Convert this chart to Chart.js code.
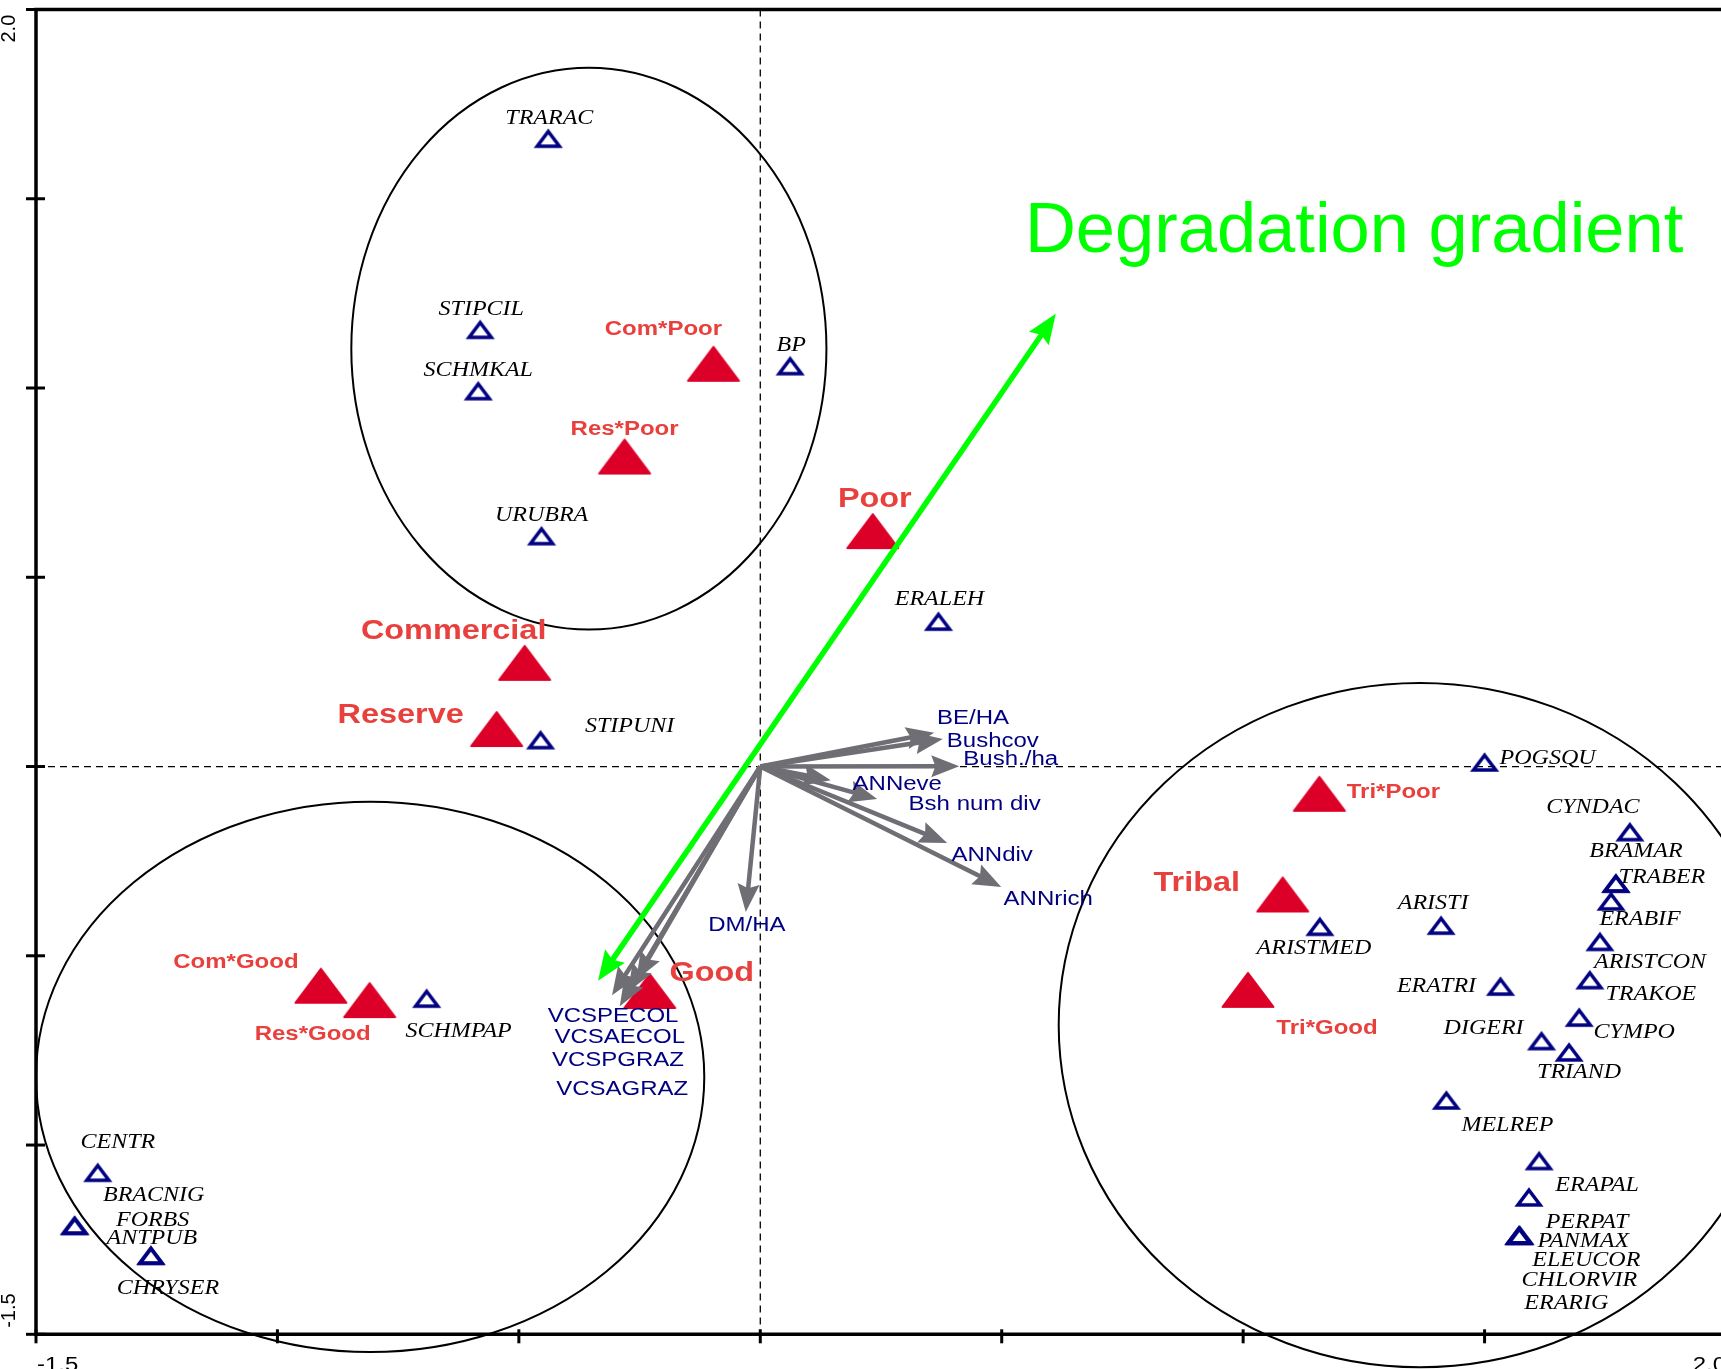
<!DOCTYPE html>
<html>
<head>
<meta charset="utf-8">
<title>Ordination biplot – degradation gradient</title>
<script src="https://cdn.jsdelivr.net/npm/chart.js@4.4.1/dist/chart.umd.min.js"></script>
<style>
  html, body { margin: 0; padding: 0; background: #ffffff; overflow: hidden; }
  #wrap { width: 1721px; height: 1369px; overflow: hidden; position: relative; }
  canvas { display: block; }
</style>
</head>
<body>
<div id="wrap"><canvas id="biplot" width="1740" height="1369" style="width:1740px;height:1369px"></canvas></div>
<script>
// ---------------- axis ticks ----------------
const tickValues  = [-1.5, -1.0, -0.5, 0.0, 0.5, 1.0, 1.5, 2.0];
const xTickLabels = ['-1.5', '', '', '', '', '', '', '2.0'];
const yTickLabels = ['-1.5', '', '', '', '', '', '', '2.0'];

// ---------------- management / condition centroids ----------------
const siteNames = ['Com*Poor', 'Res*Poor', 'Poor', 'Commercial', 'Reserve', 'Good',
                   'Com*Good', 'Res*Good', 'Tri*Poor', 'Tribal', 'Tri*Good'];
const siteX = [-0.097, -0.281, 0.233, -0.488, -0.546, -0.229, -0.910, -0.809, 1.158, 1.082, 1.010];
const siteY = [ 1.064,  0.819, 0.622,  0.274,  0.099, -0.593, -0.579, -0.617, -0.072, -0.338, -0.590];
const siteIsMain = [false, false, true, true, true, true, false, false, false, true, false];

// ---------------- species scores ----------------
const speciesNames = ['TRARAC', 'STIPCIL', 'SCHMKAL', 'BP', 'URUBRA', 'ERALEH', 'STIPUNI', 'SCHMPAP',
                      'CENTR', 'BRACNIG', 'FORBS', 'ANTPUB', 'CHRYSER',
                      'POGSQU', 'CYNDAC', 'BRAMAR', 'TRABER', 'ERABIF', 'ARISTCON', 'TRAKOE', 'CYMPO',
                      'DIGERI', 'TRIAND', 'ERATRI', 'ARISTI', 'ARISTMED', 'MELREP', 'ERAPAL', 'PERPAT',
                      'PANMAX', 'ELEUCOR', 'CHLORVIR', 'ERARIG'];
const speciesX = [-0.439, -0.580, -0.584, 0.062, -0.453, 0.369, -0.455, -0.691,
                  -1.372, -1.420, -1.420, -1.262, -1.262,
                   1.500, 1.801, 1.772, 1.772, 1.762, 1.739, 1.718, 1.696,
                   1.618, 1.675, 1.533, 1.410, 1.159, 1.421, 1.613, 1.592,
                   1.572, 1.572, 1.572, 1.572];
const speciesY = [ 1.660, 1.155, 0.993, 1.059, 0.610, 0.384, 0.071, -0.612,
                  -1.072, -1.212, -1.212, -1.291, -1.291,
                   0.012, -0.172, -0.308, -0.308, -0.355, -0.462, -0.563, -0.662,
                  -0.724, -0.754, -0.580, -0.419, -0.422, -0.881, -1.041, -1.137,
                  -1.238, -1.238, -1.238, -1.238];

// ---------------- environmental vectors (tips, origin at 0,0) ----------------
const envNames = ['BE/HA', 'Bushcov', 'Bush./ha', 'ANNeve', 'Bsh num div', 'ANNdiv', 'ANNrich', 'DM/HA',
                  'VCSPECOL', 'VCSAECOL', 'VCSPGRAZ', 'VCSAGRAZ'];
const envX = [0.360, 0.378, 0.412, 0.146, 0.242, 0.387, 0.499, -0.030, -0.307, -0.291, -0.274, -0.257];
const envY = [0.089, 0.073, 0.001, -0.036, -0.086, -0.202, -0.318, -0.384, -0.604, -0.633, -0.596, -0.564];

// ---------------- degradation gradient (double-headed) ----------------
const gradientX = [-0.336, 0.612];
const gradientY = [-0.566, 1.196];
const gradientTitle = 'Degradation gradient';

// ---------------- grouping ellipses ----------------
const ellipseCX = [-0.355, -0.808, 1.366];
const ellipseCY = [ 1.104, -0.820, -0.683];
const ellipseRX = [ 0.492,  0.692, 0.748];
const ellipseRY = [ 0.742,  0.727, 0.904];

// ---------------- label placement (pixel offsets from the mark) ----------------
const siteLabelOffset = [[-50, -34.5], [0, -27], [2, -32], [-71, -31], [-96, -14], [62, -17],
                         [-85, -23], [-57, 34], [74, -1], [-86, -11], [79, 38.5]];
const speciesLabelOffset = [[1, -19], [1, -19.5], [0, -19.5], [1, -19.5], [0, -19.5], [1, -21], [89, -13], [32, 34],
                            [20, -30], [79, -30], [78, -5], [1, -16], [17, 34],
                            [63, -3], [-37, -24], [20, -31], [46, -5], [29, 19], [50, 21], [61, 15.5], [55, 16],
                            [-58, -12], [10, 21], [-64, 1], [-8, -21], [-6, 22], [61, 26], [58, 25.5], [58, 26],
                            [64, 7], [67, 26], [60, 46], [47, 69]];
const envLabelOffset = [[39, -14], [50, 3], [51.5, -6.7], [66.5, 4], [97.5, 5], [45, 12], [47, 13], [1, 14],
                        [1, 21], [0, 31], [-10, 68], [-14, 109]];
const gradientTitleAnchor = { x: 0.548, y: 1.360 };

// ---------------- styles ----------------
const SX = 1.2;                       // horizontal text stretch of the figure
const RED_MARK = '#dc0028';
const RED_TEXT = '#e8403c';
const NAVY = '#000080';
const ARROW_GREY = '#6e6e74';
const GREEN = '#00ff00';
const SANS = '"Liberation Sans", Arial, sans-serif';
const SERIF = '"Liberation Serif", "Times New Roman", serif';

function makeFilledTriangle() {
  const c = document.createElement('canvas');
  c.width = 56; c.height = 40;
  const g = c.getContext('2d');
  g.fillStyle = RED_MARK; g.strokeStyle = RED_MARK;
  g.lineWidth = 2; g.lineJoin = 'round';
  g.beginPath(); g.moveTo(28, 3); g.lineTo(53.5, 37); g.lineTo(2.5, 37); g.closePath();
  g.fill(); g.stroke();
  return c;
}
function makeOpenTriangle() {
  const c = document.createElement('canvas');
  c.width = 34; c.height = 26;
  const g = c.getContext('2d');
  g.strokeStyle = NAVY; g.lineWidth = 3.5; g.lineJoin = 'miter';
  g.beginPath(); g.moveTo(17, 6.25); g.lineTo(28.1, 21); g.lineTo(5.9, 21); g.closePath();
  g.stroke();
  return c;
}

function stretchedText(ctx, text, x, y, font, color, align, baseline) {
  ctx.save();
  ctx.translate(x, y);
  ctx.scale(SX, 1);
  ctx.font = font;
  ctx.fillStyle = color;
  ctx.textAlign = align || 'center';
  ctx.textBaseline = baseline || 'middle';
  ctx.fillText(text, 0, 0);
  ctx.restore();
}

function arrowHead(ctx, x0, y0, x1, y1, len, half, color) {
  const ang = Math.atan2(y1 - y0, x1 - x0);
  const bx = x1 - len * Math.cos(ang), by = y1 - len * Math.sin(ang);
  const nx = -Math.sin(ang), ny = Math.cos(ang);
  ctx.fillStyle = color;
  ctx.beginPath();
  ctx.moveTo(x1, y1);
  ctx.lineTo(bx + nx * half, by + ny * half);
  ctx.lineTo(x1 - (len * 0.85) * Math.cos(ang), y1 - (len * 0.85) * Math.sin(ang));
  ctx.lineTo(bx - nx * half, by - ny * half);
  ctx.closePath();
  ctx.fill();
}

const biplotDecor = {
  id: 'biplotDecor',
  beforeDatasetsDraw(chart) {
    const { ctx, chartArea: a, scales: { x, y } } = chart;
    ctx.save();

    // grouping ellipses
    ctx.strokeStyle = '#000'; ctx.lineWidth = 2;
    for (let i = 0; i < ellipseCX.length; i++) {
      const cx = x.getPixelForValue(ellipseCX[i]);
      const cy = y.getPixelForValue(ellipseCY[i]);
      const rx = x.getPixelForValue(ellipseCX[i] + ellipseRX[i]) - cx;
      const ry = cy - y.getPixelForValue(ellipseCY[i] + ellipseRY[i]);
      ctx.beginPath(); ctx.ellipse(cx, cy, rx, ry, 0, 0, Math.PI * 2); ctx.stroke();
    }

    // dashed zero lines
    const x0 = x.getPixelForValue(0), y0 = y.getPixelForValue(0);
    ctx.lineWidth = 1.3; ctx.setLineDash([7, 5]);
    ctx.beginPath(); ctx.moveTo(x0, a.top); ctx.lineTo(x0, a.bottom); ctx.stroke();
    ctx.beginPath(); ctx.moveTo(a.left, y0); ctx.lineTo(a.right, y0); ctx.stroke();
    ctx.setLineDash([]);

    // frame
    ctx.lineWidth = 3.5; ctx.lineCap = 'butt';
    ctx.beginPath();
    ctx.moveTo(a.right, a.top); ctx.lineTo(a.left, a.top);
    ctx.lineTo(a.left, a.bottom); ctx.lineTo(a.right, a.bottom);
    ctx.stroke();

    // tick marks crossing the axes
    ctx.lineWidth = 3;
    tickValues.forEach(v => {
      const px = x.getPixelForValue(v);
      ctx.beginPath(); ctx.moveTo(px, a.bottom - 5); ctx.lineTo(px, a.bottom + 9); ctx.stroke();
      const py = y.getPixelForValue(v);
      ctx.beginPath(); ctx.moveTo(a.left - 10, py); ctx.lineTo(a.left + 9, py); ctx.stroke();
    });

    // tick labels
    const tickFont = '20px ' + SANS;
    const last = tickValues.length - 1;
    tickValues.forEach((v, i) => {
      if (xTickLabels[i]) {
        const px = x.getPixelForValue(v);
        stretchedText(ctx, xTickLabels[i], i === last ? px : px + 1, a.bottom + 37, tickFont, '#000',
                      i === last ? 'right' : 'left', 'alphabetic');
      }
      if (yTickLabels[i]) {
        const py = y.getPixelForValue(v);
        const start = i === last ? py + 33 : py - 6.5;
        ctx.save();
        ctx.translate(14.5, start);
        ctx.rotate(-Math.PI / 2);
        ctx.font = tickFont; ctx.fillStyle = '#000';
        ctx.textAlign = 'left'; ctx.textBaseline = 'alphabetic';
        ctx.fillText(yTickLabels[i], 0, 0);
        ctx.restore();
      }
    });
    ctx.restore();
  },

  afterDatasetsDraw(chart) {
    const { ctx, scales: { x, y } } = chart;
    ctx.save();
    const ox = x.getPixelForValue(0), oy = y.getPixelForValue(0);

    // environmental vectors
    ctx.strokeStyle = ARROW_GREY; ctx.lineWidth = 4.5; ctx.lineCap = 'butt';
    for (let i = 0; i < envX.length; i++) {
      const tx = x.getPixelForValue(envX[i]), ty = y.getPixelForValue(envY[i]);
      const ang = Math.atan2(ty - oy, tx - ox);
      const ex = tx - 22 * Math.cos(ang), ey = ty - 22 * Math.sin(ang);
      ctx.beginPath(); ctx.moveTo(ox, oy); ctx.lineTo(ex, ey); ctx.stroke();
      arrowHead(ctx, ox, oy, tx, ty, 28, 11, ARROW_GREY);
    }

    // degradation gradient arrow
    const gx0 = x.getPixelForValue(gradientX[0]), gy0 = y.getPixelForValue(gradientY[0]);
    const gx1 = x.getPixelForValue(gradientX[1]), gy1 = y.getPixelForValue(gradientY[1]);
    const gAng = Math.atan2(gy1 - gy0, gx1 - gx0);
    ctx.strokeStyle = GREEN; ctx.lineWidth = 5.5;
    ctx.beginPath();
    ctx.moveTo(gx0 + 22 * Math.cos(gAng), gy0 + 22 * Math.sin(gAng));
    ctx.lineTo(gx1 - 22 * Math.cos(gAng), gy1 - 22 * Math.sin(gAng));
    ctx.stroke();
    arrowHead(ctx, gx0, gy0, gx1, gy1, 30, 12, GREEN);
    arrowHead(ctx, gx1, gy1, gx0, gy0, 30, 12, GREEN);

    // labels: environmental vectors
    const envFont = '20px ' + SANS;
    envNames.forEach((n, i) => {
      stretchedText(ctx, n, x.getPixelForValue(envX[i]) + envLabelOffset[i][0],
                    y.getPixelForValue(envY[i]) + envLabelOffset[i][1], envFont, NAVY);
    });

    // labels: species
    const spFont = 'italic 20px ' + SERIF;
    speciesNames.forEach((n, i) => {
      stretchedText(ctx, n, x.getPixelForValue(speciesX[i]) + speciesLabelOffset[i][0],
                    y.getPixelForValue(speciesY[i]) + speciesLabelOffset[i][1], spFont, '#000');
    });

    // labels: management / condition
    siteNames.forEach((n, i) => {
      const f = siteIsMain[i] ? 'bold 27px ' + SANS : 'bold 20px ' + SANS;
      stretchedText(ctx, n, x.getPixelForValue(siteX[i]) + siteLabelOffset[i][0],
                    y.getPixelForValue(siteY[i]) + siteLabelOffset[i][1], f, RED_TEXT);
    });

    // gradient title
    ctx.font = '70.5px ' + SANS;
    ctx.fillStyle = GREEN; ctx.textAlign = 'left'; ctx.textBaseline = 'alphabetic';
    ctx.fillText(gradientTitle, x.getPixelForValue(gradientTitleAnchor.x), y.getPixelForValue(gradientTitleAnchor.y));
    ctx.restore();
  }
};

const filledTri = makeFilledTriangle();
const openTri = makeOpenTriangle();

new Chart(document.getElementById('biplot'), {
  type: 'scatter',
  data: {
    datasets: [
      {
        label: 'Species',
        data: speciesX.map((v, i) => ({ x: v, y: speciesY[i] })),
        pointStyle: openTri,
        pointRadius: 6,
        order: 2
      },
      {
        label: 'Management × condition',
        data: siteX.map((v, i) => ({ x: v, y: siteY[i] })),
        pointStyle: filledTri,
        pointRadius: 6,
        order: 1
      }
    ]
  },
  options: {
    responsive: false,
    devicePixelRatio: 1,
    animation: false,
    events: [],
    layout: { autoPadding: false, padding: { left: 36, top: 9.5, right: 14, bottom: 34.7 } },
    scales: {
      x: { type: 'linear', min: -1.5, max: 2.0, display: false },
      y: { type: 'linear', min: -1.5, max: 2.0, display: false }
    },
    plugins: { legend: { display: false }, tooltip: { enabled: false } }
  },
  plugins: [biplotDecor]
});
</script>
</body>
</html>
